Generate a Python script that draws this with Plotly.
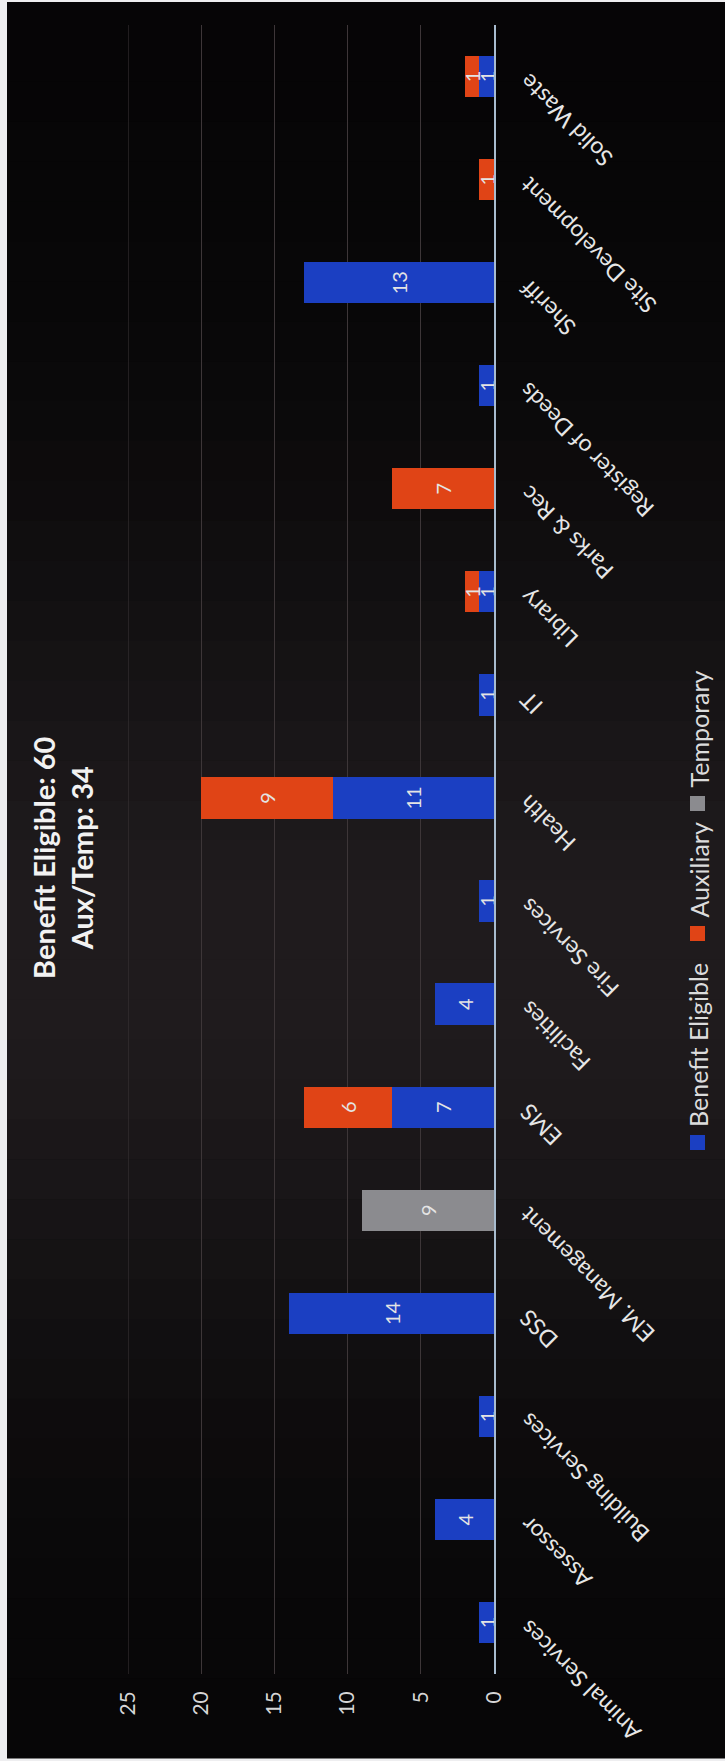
import math
import plotly.graph_objects as go

# ---------------- data ----------------
categories = ["Animal Services", "Assessor", "Building Services", "DSS", "EM. Management",
              "EMS", "Facilities", "Fire Services", "Health", "IT", "Library", "Parks & Rec",
              "Register of Deeds", "Sheriff", "Site Development", "Solid Waste"]
benefit_eligible = [1, 4, 1, 14, None, 7, 4, 1, 11, 1, 1, None, 1, 13, None, 1]
auxiliary = [None, None, None, None, None, 6, None, None, 9, None, 1, 7, None, None, 1, 1]
temporary = [None, None, None, None, 9, None, None, None, None, None, None, None, None, None, None, None]
series_names = ["Benefit Eligible", "Auxiliary", "Temporary"]
value_ticks = [0, 5, 10, 15, 20, 25]
title_lines = ["Benefit Eligible: 60", "Aux/Temp: 34"]

# ---------------- styling ----------------
colors = ["#1b3fc2", "#e04416", "#8b8b8f"]
GRID = "#3d3638"
FONT = "Lato"
W, H = 725, 1761
ML, MR, MT, MB = 128, 231, 25, 87
PW = W - ML - MR
PH = H - MT - MB


def pxx(px):
    return (px - ML) / PW


def pxy(py):
    return (H - MB - py) / PH


fig = go.Figure()
for name, vals, col in zip(series_names, [benefit_eligible, auxiliary, temporary], colors):
    fig.add_trace(go.Bar(
        name=name, y=categories, x=vals, orientation="h",
        marker=dict(color=col, line=dict(width=0)),
        texttemplate="%{x}", textposition="inside", insidetextanchor="middle",
        textangle=-90, constraintext="none",
        textfont=dict(family=FONT, size=20, color="#e4e4e4"),
        showlegend=False, hoverinfo="skip",
    ))

shapes = []
# white outer frame strip + dark chart area
shapes.append(dict(type="rect", xref="paper", yref="paper", layer="below",
                   x0=pxx(7), x1=pxx(W + 5), y0=pxy(1758), y1=pxy(2),
                   fillcolor="#060506", line=dict(width=0)))
# vertical soft gradient (lighter in the middle)
N = 44
y_start, y_end = 2, 1758
step = (y_end - y_start) / N
base = (6, 5, 6)
peak = (31, 27, 29)
for k in range(N):
    y0 = y_start + k * step
    y1 = y0 + step
    ym = (y0 + y1) / 2
    f = math.exp(-((ym - 960) / 430) ** 2)
    c = tuple(int(round(b + (p - b) * f)) for b, p in zip(base, peak))
    shapes.append(dict(type="rect", xref="paper", yref="paper", layer="below",
                       x0=pxx(7), x1=pxx(W + 5), y0=pxy(y1 + 0.5), y1=pxy(y0),
                       fillcolor="rgb(%d,%d,%d)" % c, line=dict(width=0)))

# gridline at the top value of the axis (plotly clips the edge gridline)
shapes.append(dict(type="line", xref="x", yref="paper", layer="below",
                   x0=value_ticks[-1], x1=value_ticks[-1], y0=0, y1=1,
                   line=dict(color=GRID, width=1)))

# legend squares (pixel positions of the legend box)
legend_sq = [(1135, 1150), (926, 941), (796, 811)]
legend_txt_bottom = [1129, 920, 790]
for (t, b), col in zip(legend_sq, colors):
    shapes.append(dict(type="rect", xref="paper", yref="paper",
                       x0=pxx(690), x1=pxx(705), y0=pxy(b), y1=pxy(t),
                       fillcolor=col, line=dict(width=0)))

annotations = []
# category labels
for c in categories:
    annotations.append(dict(x=0, y=c, xref="x", yref="y", text=c, showarrow=False,
                            textangle=-135, xanchor="left", yanchor="top",
                            xshift=17, yshift=11,
                            font=dict(family=FONT, size=23, color="#e6e6e6")))
# title
annotations.append(dict(x=pxx(62), y=pxy(858), xref="paper", yref="paper",
                        text="<b>" + "<br>".join(title_lines) + "</b>", showarrow=False,
                        textangle=-90, xanchor="center", yanchor="middle",
                        font=dict(family=FONT, size=29, color="#f2f2f2")))
# legend labels
for name, yb in zip(series_names, legend_txt_bottom):
    annotations.append(dict(x=pxx(698), y=pxy(yb), xref="paper", yref="paper",
                            text=name, showarrow=False, textangle=-90,
                            xanchor="center", yanchor="bottom",
                            font=dict(family=FONT, size=25, color="#dcdcdc")))

fig.update_layout(
    width=W, height=H,
    margin=dict(l=ML, r=MR, t=MT, b=MB, pad=0),
    paper_bgcolor="#eeeef0", plot_bgcolor="rgba(0,0,0,0)",
    barmode="stack", bargap=0.6,
    shapes=shapes, annotations=annotations,
    font=dict(family=FONT, color="#dcdcdc"),
    xaxis=dict(range=[25, 0], tickvals=value_ticks, tickangle=-90, ticks="",
               showgrid=True, gridcolor=GRID, gridwidth=1, zeroline=False,
               showline=False, ticklabelstandoff=12,
               tickfont=dict(family=FONT, size=21, color="#d6d6d6")),
    yaxis=dict(type="category", categoryarray=categories, categoryorder="array",
               range=[-0.5, len(categories) - 0.5], side="right",
               showline=True, linecolor="#a8bccf", linewidth=1.5,
               showgrid=False, zeroline=False, ticks="", showticklabels=False),
)

fig.write_html("out.html")
